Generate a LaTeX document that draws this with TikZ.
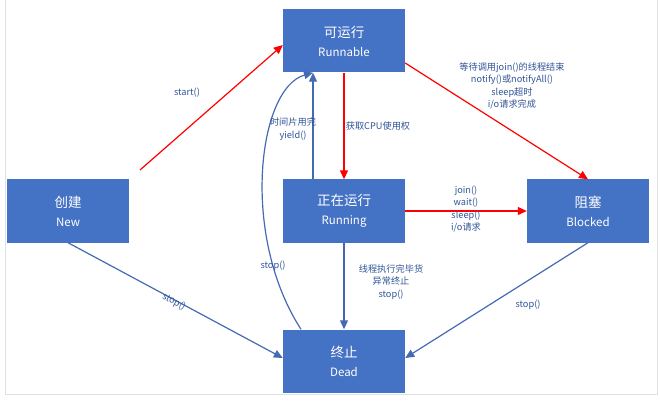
\documentclass[tikz,border=0pt]{standalone}
\usepackage{fontspec}
\setmainfont{Noto Sans CJK SC}
\usetikzlibrary{arrows.meta,positioning}
\definecolor{boxblue}{RGB}{68,114,196}
\definecolor{lineblue}{RGB}{68,106,180}
\definecolor{textblue}{RGB}{47,84,150}

\begin{document}
\begin{tikzpicture}[x=1pt,y=-1pt,
  state/.style={fill=boxblue,text=white,minimum width=122pt,minimum height=63pt,inner sep=0pt,align=center,font=\fontsize{13.5}{19}\selectfont},
  redarrow/.style={red,line width=1.2pt,-{Triangle[length=9pt,width=8pt]}},
  bluearrow/.style={lineblue,line width=1.2pt,-{Triangle[length=9pt,width=8pt]}},
  lbl/.style={text=textblue,align=center,font=\fontsize{9.2}{12.4}\selectfont,inner sep=1pt}]
\useasboundingbox (0,0) rectangle (660,403);
\draw[black!12] (5,0)--(5,394)--(657,394)--(657,0);

\node[state] (new) at (68,211) {创建\\{\fontsize{11.5}{13}\selectfont New}};
\node[state] (runnable) at (344,41) {可运行\\{\fontsize{11.5}{13}\selectfont Runnable}};
\node[state] (running) at (344,211) {正在运行\\{\fontsize{11.5}{13}\selectfont Running}};
\node[state] (blocked) at (588,211) {阻塞\\{\fontsize{11.5}{13}\selectfont Blocked}};
\node[state] (dead) at (344,361) {终止\\{\fontsize{11.5}{13}\selectfont Dead}};

\coordinate (s0) at (140,170);
\draw[redarrow] (s0) -- ([yshift=-4pt]runnable.west);
\draw[redarrow] ([yshift=-22pt]runnable.east) -- (blocked.north);
\draw[redarrow] (runnable.south) -- (running.north);
\draw[redarrow] (running.east) -- (blocked.west);
\draw[bluearrow] ([xshift=-31pt]running.north) -- ([xshift=-31pt]runnable.south);
\draw[bluearrow] ([xshift=-43pt]dead.north) .. controls (240,235) and (258,88) .. ([xshift=-31pt]runnable.south);
\draw[bluearrow] (running.south) -- (dead.north);
\draw[bluearrow] (new.south) -- ([yshift=3pt]dead.west);
\draw[bluearrow] (blocked.south) -- ([yshift=3pt]dead.east);

\node[lbl] (l1) at (187,93) {start()};
\node[lbl] (l2) at (512,86) {等待调用join()的线程结束\\notify()或notifyAll()\\sleep超时\\i/o请求完成};
\node[lbl] (l3) at (378,126) {获取CPU使用权};
\node[lbl] (l4) at (293,129) {时间片用完\\yield()};
\node[lbl] (l5) at (466,209) {join()\\wait()\\sleep()\\i/o请求};
\node[lbl] (l6) at (391,282) {线程执行完毕货\\异常终止\\stop()};
\node[lbl,rotate=-28.5] (l7) at (174,302) {stop()};
\node[lbl] (l8) at (273,266) {stop()};
\node[lbl] (l9) at (528,305) {stop()};
\end{tikzpicture}
\end{document}
